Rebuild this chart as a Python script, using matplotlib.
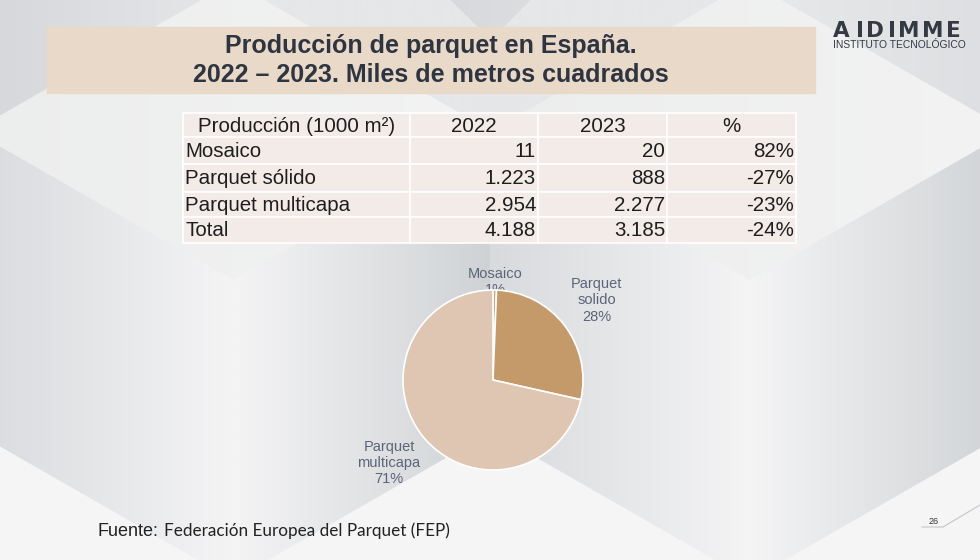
import matplotlib.pyplot as plt
from matplotlib.patches import Rectangle, Polygon
from matplotlib.colors import to_rgb
from matplotlib.textpath import TextPath
from matplotlib.font_manager import FontProperties
import numpy as np

# data
title_lines = ["Producción de parquet en España.", "2022 – 2023. Miles de metros cuadrados"]
header = ["Producción (1000 m²)", "2022", "2023", "%"]
rows = ["Mosaico", "Parquet sólido", "Parquet multicapa", "Total"]
prod_2022 = ["11", "1.223", "2.954", "4.188"]
prod_2023 = ["20", "888", "2.277", "3.185"]
change = ["82%", "-27%", "-23%", "-24%"]

pie_labels = ["Mosaico", "Parquet\nsolido", "Parquet\nmulticapa"]
pie_values = [20, 888, 2277]
pie_colors = ["#c9a67c", "#c49a6a", "#dfc6b2"]

plt.rcParams['font.family'] = ['Liberation Sans', 'DejaVu Sans']

fig = plt.figure(figsize=(9.8, 5.6), dpi=100)
bg = fig.add_axes([0, 0, 1, 1])
bg.axis('off')


def grad_face(pts, x0, x1, c0, c1):
    patch = Polygon(pts, closed=True, facecolor='none', edgecolor='none')
    bg.add_patch(patch)
    t = np.linspace(0, 1, 256)[:, None]
    img = ((1 - t) * np.array(to_rgb(c0)) + t * np.array(to_rgb(c1)))[None, :, :]
    im = bg.imshow(img, extent=(x0, x1, 620, -60), aspect='auto', zorder=0.5,
                   interpolation='bilinear')
    im.set_clip_path(patch)


# slide background: cube pattern
bg.add_patch(Rectangle((0, 0), 980, 560, color="#f5f5f6", zorder=0))
w, top, mid, low, bot = 260, -18, 131, 431, 580
for cx in [233, 750]:
    # top face
    grad_face([(cx - w, mid), (cx, top), (cx + w, mid), (cx, 280)],
              cx - w, cx + w, "#eceded", "#f3f3f4")
    # left face
    grad_face([(cx - w, mid), (cx, 280), (cx, bot), (cx - w, low)],
              cx - w, cx, "#d8dadd", "#f4f4f5")
    # right face
    grad_face([(cx, 280), (cx + w, mid), (cx + w, low), (cx, bot)],
              cx, cx + w, "#f4f4f5", "#cfd2d5")
# darker gaps above the top faces
grad_face([(-30, -30), (233, -30), (233, top), (-27, mid)], -30, 233, "#d4d6d9", "#e6e7e9")
grad_face([(233, top), (491, mid), (750, top), (750, -30), (233, -30)], 233, 750,
          "#e6e7e9", "#e6e7e9")
grad_face([(420, -30), (560, -30), (491, 40)], 420, 560, "#d6d8db", "#dcdee0")
grad_face([(750, top), (1010, mid), (1012, -30), (750, -30)], 750, 1012, "#e8e9ea", "#dcdee1")

bg.set_xlim(0, 980)
bg.set_ylim(560, 0)

# title banner
bg.add_patch(Rectangle((47, 27), 768, 66, color="#e8d9c8", zorder=1))
for i, line in enumerate(title_lines):
    bg.text(431, 46 + i * 28.5, line, ha='center', va='center', fontsize=18,
            fontweight='bold', color="#2e3440", zorder=2,
            family=['Liberation Sans Narrow', 'Liberation Sans'])

# logo with wide letter spacing
logo = "AIDIMME"
fp = FontProperties(family='DejaVu Sans', weight='bold', size=15.5)
widths = [TextPath((0, 0), ch, prop=fp).get_extents().width * 100 / 72 for ch in logo]
gap = (124 - sum(widths)) / (len(logo) - 1)
x = 833
for ch, cw in zip(logo, widths):
    bg.text(x, 31, ch, ha='left', va='center', fontproperties=fp, color="#333a44", zorder=2)
    x += cw + gap
bg.text(899, 45.5, "INSTITUTO TECNOLÓGICO", ha='center', va='center', fontsize=7.4,
        color="#333a44", zorder=2)

# table
col_x = [183, 410, 538, 667, 796]
row_y = [113, 137, 164, 192, 217, 243]
cell_color = "#f3ebe7"
for r in range(5):
    for c in range(4):
        bg.add_patch(Rectangle((col_x[c], row_y[r]), col_x[c + 1] - col_x[c],
                               row_y[r + 1] - row_y[r], facecolor=cell_color,
                               edgecolor="white", lw=1.2, zorder=1))
for c, h in enumerate(header):
    bg.text((col_x[c] + col_x[c + 1]) / 2, (row_y[0] + row_y[1]) / 2 + 1, h,
            ha='center', va='center', fontsize=14.8, color="#1e1e1e", zorder=2)
for r in range(4):
    yc = (row_y[r + 1] + row_y[r + 2]) / 2 + 1
    bg.text(col_x[0] + 2, yc, rows[r], ha='left', va='center', fontsize=14.8,
            color="#1e1e1e", zorder=2)
    for c, vals in enumerate([prod_2022, prod_2023, change]):
        bg.text(col_x[c + 2] - 2, yc, vals[r], ha='right', va='center',
                fontsize=14.8, color="#1e1e1e", zorder=2)

# pie
cx, cy, rad = 493, 380, 90
ax = fig.add_axes([(cx - rad) / 980, (560 - cy - rad) / 560, 2 * rad / 980, 2 * rad / 560])
wedges, _ = ax.pie(pie_values, colors=pie_colors, startangle=90, counterclock=False,
                   wedgeprops=dict(edgecolor="white", linewidth=1.2))
ax.set_xlim(-1, 1)
ax.set_ylim(-1, 1)
ax.set_aspect('auto')
total = sum(pie_values)
label_dist = [1.09, 1.45, 1.48]
for wd, lab, v, d in zip(wedges, pie_labels, pie_values, label_dist):
    ang = np.deg2rad((wd.theta1 + wd.theta2) / 2)
    tx = cx + d * rad * np.cos(ang)
    ty = cy - d * rad * np.sin(ang)
    bg.text(tx, ty, f"{lab}\n{v / total * 100:.0f}%", ha='center', va='center',
            fontsize=10.5, color="#5b6577", linespacing=1.2, zorder=3)

# footer
bg.text(97, 531, "Fuente:", ha='left', va='center', fontsize=13, color="#222222", zorder=2)
bg.text(164, 531, "Federación Europea del Parquet (FEP)", ha='left', va='center',
        fontsize=12.3, color="#222222", zorder=2, family=['Lato', 'DejaVu Sans'])
bg.text(934, 522, "26", ha='center', va='center', fontsize=6.5, color="#333333", zorder=2)
bg.plot([922, 943, 980], [527, 527, 505], color="#c3c5c8", lw=0.8, zorder=1)

fig.savefig("out.png", dpi=100)
